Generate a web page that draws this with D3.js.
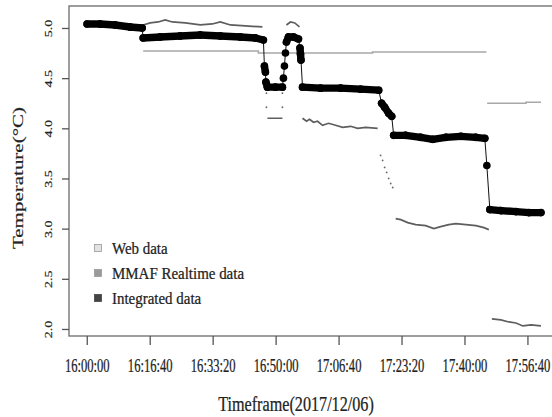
<!DOCTYPE html>
<html>
<head>
<meta charset="utf-8">
<script src="https://cdn.jsdelivr.net/npm/d3@7"></script>
<style>
  html, body { margin: 0; padding: 0; background: #fff; }
  svg { display: block; font-family: "Liberation Serif", "Times New Roman", serif; }
  svg text { stroke: #222; stroke-width: 0.25px; }
</style>
</head>
<body>
<svg id="chart" width="552" height="417"></svg>
<script>
// tick labels
const timeTicks = ["16:00:00", "16:16:40", "16:33:20", "16:50:00", "17:06:40", "17:23:20", "17:40:00", "17:56:40"];
const tempTicks = [2.0, 2.5, 3.0, 3.5, 4.0, 4.5, 5.0];

// Web data (null = gap)
const webData = [
  ["16:14:56", 4.77], ["16:35:22", 4.77], ["16:45:26", 4.75], ["17:15:40", 4.76], ["17:45:50", 4.76],
  ["17:45:55", null],
  ["17:46:00", 4.25], ["17:56:17", 4.26], ["18:00:15", 4.26]
];

// MMAF realtime data (null = gap)
const mmafData = [
  ["16:14:56", 5.03], ["16:16:48", 5.05], ["16:18:55", 5.06], ["16:20:46", 5.08], ["16:22:38", 5.06],
  ["16:26:05", 5.05], ["16:30:03", 5.03], ["16:33:14", 5.04], ["16:35:22", 5.06], ["16:38:01", 5.03],
  ["16:42:00", 5.02], ["16:46:30", 5.01],
  ["16:47:00", null],
  ["16:47:50", 4.10], ["16:51:48", 4.10],
  ["16:52:00", null],
  ["16:52:52", 5.03], ["16:53:56", 5.06], ["16:55:04", 5.05], ["16:56:19", 5.01],
  ["16:56:40", null],
  ["16:57:07", 4.10], ["16:58:11", 4.07], ["16:58:59", 4.09], ["17:00:02", 4.06], ["17:01:06", 4.07],
  ["17:02:25", 4.03], ["17:04:01", 4.05], ["17:05:52", 4.03], ["17:07:44", 4.01], ["17:09:51", 4.02],
  ["17:11:42", 4.00], ["17:13:50", 4.01], ["17:17:01", 4.00],
  ["17:17:30", null],
  ["17:21:47", 3.10], ["17:23:07", 3.09], ["17:24:58", 3.06], ["17:27:05", 3.04], ["17:29:44", 3.03],
  ["17:31:52", 3.00], ["17:33:43", 3.02], ["17:35:51", 3.04], ["17:37:42", 3.05], ["17:40:22", 3.04],
  ["17:43:01", 3.03], ["17:45:08", 3.01], ["17:46:27", 2.99],
  ["17:46:50", null],
  ["17:47:15", 2.10], ["17:49:38", 2.09], ["17:51:45", 2.07], ["17:53:37", 2.06], ["17:55:28", 2.03],
  ["17:57:35", 2.04], ["18:00:15", 2.03]
];

// isolated MMAF readings during the transitions
const mmafDots = [
  ["16:47:34", 4.35], ["16:51:48", 4.35], ["16:47:34", 4.21], ["16:51:48", 4.21],
  ["17:17:48", 3.73], ["17:18:20", 3.68], ["17:18:52", 3.61], ["17:19:24", 3.56],
  ["17:19:56", 3.50], ["17:20:28", 3.45], ["17:21:00", 3.41]
];

// Integrated data
const integratedData = [
  ["16:00:05", 5.04], ["16:03:32", 5.04], ["16:07:30", 5.03], ["16:11:29", 5.01], ["16:14:40", 5.00],
  ["16:14:56", 4.90], ["16:19:27", 4.91], ["16:24:45", 4.92], ["16:30:03", 4.93], ["16:35:22", 4.92],
  ["16:40:40", 4.91], ["16:44:39", 4.90], ["16:46:46", 4.88],
  ["16:47:02", 4.62], ["16:47:18", 4.56], ["16:47:26", 4.46],
  ["16:47:50", 4.41], ["16:49:57", 4.41], ["16:51:48", 4.41],
  ["16:52:04", 4.50], ["16:52:20", 4.62], ["16:52:36", 4.75], ["16:52:52", 4.86],
  ["16:53:24", 4.91], ["16:54:44", 4.91], ["16:56:03", 4.89],
  ["16:56:27", 4.80], ["16:56:35", 4.74], ["16:56:43", 4.68],
  ["16:57:07", 4.41], ["17:01:53", 4.40], ["17:07:12", 4.40], ["17:12:30", 4.39], ["17:17:17", 4.38],
  ["17:18:04", 4.25], ["17:18:52", 4.21], ["17:19:56", 4.15], ["17:20:44", 4.12],
  ["17:21:15", 3.93], ["17:24:26", 3.93], ["17:28:25", 3.91], ["17:31:36", 3.89], ["17:35:03", 3.91],
  ["17:39:02", 3.92], ["17:43:00", 3.91], ["17:45:23", 3.90],
  ["17:45:55", 3.63],
  ["17:46:43", 3.19], ["17:49:38", 3.18], ["17:53:37", 3.17], ["17:57:04", 3.16], ["18:00:15", 3.16]
];

const legendItems = ["Web data", "MMAF Realtime data", "Integrated data"];
const legendColors = ["#e2e2e2", "#9a9a9a", "#444"];

const parseTime = d3.timeParse("%H:%M:%S");
const fmtTime = d3.timeFormat("%H:%M:%S");

const box = { left: 69, right: 553, top: 6, bottom: 336 };

const x = d3.scaleTime()
  .domain([parseTime("15:55:18"), parseTime("18:03:26")])
  .range([box.left, box.right]);

const y = d3.scaleLinear()
  .domain([1.930, 5.219])
  .range([box.bottom, box.top]);

const svg = d3.select("#chart");

// frame
svg.append("rect")
  .attr("x", box.left).attr("y", box.top)
  .attr("width", box.right - box.left).attr("height", box.bottom - box.top)
  .attr("fill", "none").attr("stroke", "#6a6a6a").attr("stroke-width", 1.3);

// x axis
const xAxis = svg.append("g")
  .attr("transform", `translate(0,${box.bottom})`)
  .call(d3.axisBottom(x)
    .tickValues(timeTicks.map(parseTime))
    .tickFormat(fmtTime)
    .tickSize(9)
    .tickPadding(14));
xAxis.select(".domain").remove();
xAxis.selectAll(".tick line").attr("stroke", "#555").attr("stroke-width", 1.3);
xAxis.selectAll(".tick text")
  .attr("font-family", "Liberation Serif")
  .attr("font-size", 18)
  .attr("fill", "#222")
  .attr("transform", "scale(0.7,1)");

// y axis
const yAxis = svg.append("g")
  .attr("transform", `translate(${box.left},0)`)
  .call(d3.axisLeft(y)
    .tickValues(tempTicks)
    .tickFormat(d3.format(".1f"))
    .tickSize(7));
yAxis.select(".domain").remove();
yAxis.selectAll(".tick line").attr("stroke", "#555").attr("stroke-width", 1.3);
yAxis.selectAll(".tick text")
  .attr("x", null).attr("dy", null)
  .attr("font-family", "Liberation Serif")
  .attr("font-size", 14)
  .attr("fill", "#222")
  .attr("text-anchor", "middle")
  .attr("transform", "translate(-17,0) scale(0.68,1) rotate(-90)");

// axis titles
svg.append("text")
  .attr("transform", "translate(296,411) scale(0.77,1)")
  .attr("text-anchor", "middle")
  .attr("font-size", 21)
  .attr("fill", "#222")
  .text("Timeframe(2017/12/06)");

svg.append("text")
  .attr("transform", "translate(23,178) scale(0.67,1) rotate(-90)")
  .attr("text-anchor", "middle")
  .attr("font-size", 21)
  .attr("fill", "#222")
  .text("Temperature(°C)");

const line = d3.line()
  .defined(d => d[1] !== null)
  .x(d => x(parseTime(d[0])))
  .y(d => y(d[1]));

// Web data
svg.append("path")
  .datum(webData)
  .attr("fill", "none")
  .attr("stroke", "#a8a8a8")
  .attr("stroke-width", 1.6)
  .attr("d", line.curve(d3.curveStepAfter));

// MMAF data
svg.append("path")
  .datum(mmafData)
  .attr("fill", "none")
  .attr("stroke", "#5e5e5e")
  .attr("stroke-width", 1.7)
  .attr("d", line.curve(d3.curveLinear));

svg.append("g").selectAll("circle")
  .data(mmafDots)
  .join("circle")
  .attr("cx", d => x(parseTime(d[0])))
  .attr("cy", d => y(d[1]))
  .attr("r", 0.9)
  .attr("fill", "#666");

// Integrated data: thin connecting line, dense plateaus, dots
const integ = svg.append("g");
integ.append("path")
  .datum(integratedData)
  .attr("fill", "none")
  .attr("stroke", "#111")
  .attr("stroke-width", 1)
  .attr("d", line.curve(d3.curveLinear));

integ.selectAll(".band")
  .data(d3.pairs(integratedData).filter(([a, b]) => Math.abs(a[1] - b[1]) < 0.08))
  .join("line")
  .attr("class", "band")
  .attr("x1", d => x(parseTime(d[0][0])))
  .attr("y1", d => y(d[0][1]))
  .attr("x2", d => x(parseTime(d[1][0])))
  .attr("y2", d => y(d[1][1]))
  .attr("stroke", "#000")
  .attr("stroke-width", 7.4)
  .attr("stroke-linecap", "round");

integ.selectAll("circle")
  .data(integratedData)
  .join("circle")
  .attr("cx", d => x(parseTime(d[0])))
  .attr("cy", d => y(d[1]))
  .attr("r", 3.8)
  .attr("fill", "#000");

// legend
const legend = svg.append("g").attr("transform", "translate(98,248)");
legendItems.forEach((name, i) => {
  const row = legend.append("g").attr("transform", `translate(0,${i * 25})`);
  row.append("rect")
    .attr("x", -3.5).attr("y", -3.5)
    .attr("width", 7).attr("height", 7)
    .attr("fill", legendColors[i])
    .attr("stroke", i === 0 ? "#999" : legendColors[i])
    .attr("stroke-width", 0.8);
  row.append("text")
    .attr("transform", "translate(14,5.5) scale(0.88,1)")
    .attr("font-size", 17)
    .attr("fill", "#222")
    .text(name);
});
</script>
</body>
</html>
